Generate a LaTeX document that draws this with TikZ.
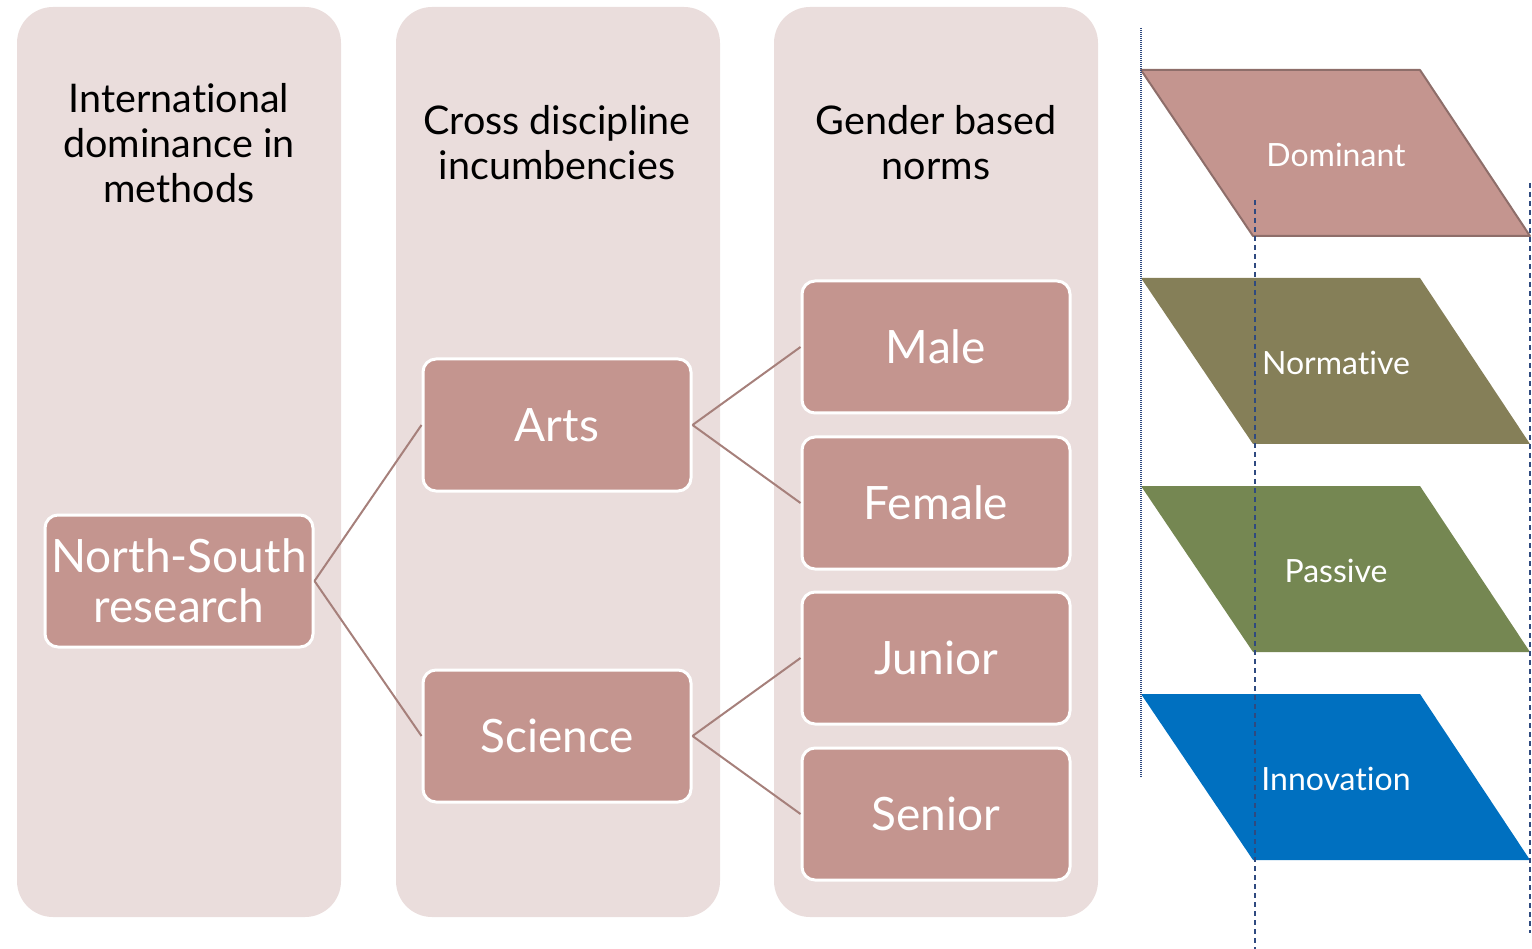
\documentclass[tikz,border=0pt]{standalone}
\usepackage{fontspec}
\setmainfont{Lato}[Ligatures=NoCommon]
\definecolor{colbg}{HTML}{EADDDC}
\definecolor{boxfill}{HTML}{C4958F}
\definecolor{linkcol}{HTML}{A6807B}
\definecolor{domedge}{HTML}{8E6E6A}
\definecolor{normfill}{HTML}{857F58}
\definecolor{passfill}{HTML}{758752}
\definecolor{innofill}{HTML}{0070C0}
\definecolor{guide}{HTML}{2F4A80}

\begin{document}
\begin{tikzpicture}[x=1pt,y=-1pt,
  column/.style={fill=colbg,rounded corners=36pt},
  head/.style={align=center,font=\fontsize{39.5}{45}\selectfont,text=black},
  item/.style={draw=white,line width=3pt,fill=boxfill,rounded corners=13pt,
    minimum width=268pt,minimum height=132pt,text=white,align=center,
    font=\fontsize{46}{50}\selectfont},
  link/.style={draw=linkcol,line width=2pt},
  tag/.style={text=white,font=\fontsize{32}{36}\selectfont}]
  \useasboundingbox (0,0) rectangle (1532,949);

  % three background columns
  \foreach \x in {17,396,774}{\fill[column] (\x,7) rectangle ++(324,910);}

  \node[head] (h1) at (179,143) {International\\dominance in\\methods};
  \node[head] (h2) at (557,143) {Cross discipline\\incumbencies};
  \node[head] (h3) at (936,143) {Gender based\\norms};

  \node[item] (ns) at (179,581) {North-South\\research};
  \node[item] (arts) at (557,425) {Arts};
  \node[item] (sci) at (557,736) {Science};
  \node[item] (male) at (936,347) {Male};
  \node[item] (female) at (936,503) {Female};
  \node[item] (junior) at (936,658) {Junior};
  \node[item] (senior) at (936,814) {Senior};

  \foreach \a/\b in {ns/arts,ns/sci,arts/male,arts/female,sci/junior,sci/senior}
    {\draw[link] (\a.east) -- (\b.west);}

  % layers on the right
  \foreach \y/\col/\txt/\nm in {70/boxfill/Dominant/dom,278/normfill/Normative/norm,
      486/passfill/Passive/pass,694/innofill/Innovation/inno}{%
    \fill[\col] (1141,\y) -- ++(279,0) -- ++(110,166) -- ++(-277,0) -- cycle;
    \node[tag] (\nm) at (1336,\y+85) {\txt};
  }
  \draw[domedge,line width=2pt,line join=round] (1141,70) -- (1420,70) -- (1530,236) -- (1253,236) -- cycle;

  \coordinate (g1a) at (1141,28);  \coordinate (g1b) at (1141,777);
  \coordinate (g2a) at (1255,200); \coordinate (g2b) at (1255,949);
  \coordinate (g3a) at (1530,183); \coordinate (g3b) at (1530,933);
  \draw[guide,line width=1.3pt,dash pattern=on 1pt off 1pt] (g1a) -- (g1b);
  \draw[guide,line width=1.3pt,dash pattern=on 5pt off 4pt] (g2a) -- (g2b);
  \draw[guide,line width=1.3pt,dash pattern=on 5pt off 4pt] (g3a) -- (g3b);
\end{tikzpicture}
\end{document}
